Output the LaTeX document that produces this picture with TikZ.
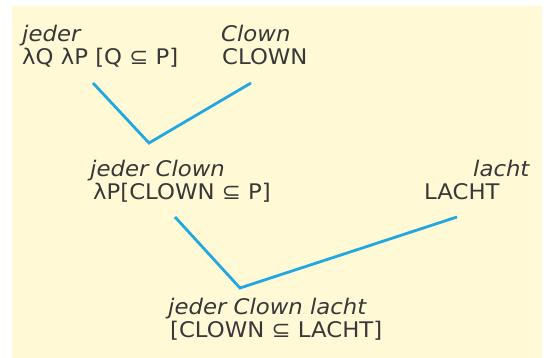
\documentclass[tikz,border=0pt]{standalone}
\usepackage{fontspec}
\setmainfont{DejaVu Sans}[FakeStretch=1.06]
\definecolor{bgyellow}{HTML}{FFF9D6}
\definecolor{lineblue}{HTML}{22A8E0}
\definecolor{txtgray}{HTML}{383838}
\begin{document}
\begin{tikzpicture}[x=1pt,y=-1pt,
  lbl/.style={inner sep=0pt, anchor=base west, text=txtgray, font=\fontsize{21.5}{23}\selectfont},
  lblit/.style={lbl, font=\fontsize{21.5}{23}\selectfont\itshape},
  branch/.style={draw=lineblue, line width=2.8pt}]
\useasboundingbox (0,0) rectangle (547,358);
\fill[bgyellow] (12,6) rectangle (542,358);
% labels
\node[lblit] (j1) at (22,42) {jeder};
\node[lbl]   (j2) at (22,65) {λQ λP [Q ⊆ P]};
\node[lblit] (c1) at (221,42) {Clown};
\node[lbl]   (c2) at (222,65) {CLOWN};
\node[lblit] (jc1) at (90,177) {jeder Clown};
\node[lbl]   (jc2) at (93,200) {λP[CLOWN ⊆ P]};
\node[lblit] (l1) at (473,177) {lacht};
\node[lbl]   (l2) at (424,200) {LACHT};
\node[lblit] (s1) at (168,315) {jeder Clown lacht};
\node[lbl]   (s2) at (170,338) {[CLOWN ⊆ LACHT]};
% branch points
\coordinate (a1) at (93,83);
\coordinate (v1) at (149,143);
\coordinate (b1) at (251,83);
\coordinate (a2) at (175,217);
\coordinate (v2) at (240,288);
\coordinate (b2) at (457,217);
\draw[branch] (a1) -- (v1) -- (b1);
\draw[branch] (a2) -- (v2) -- (b2);
\end{tikzpicture}
\end{document}
